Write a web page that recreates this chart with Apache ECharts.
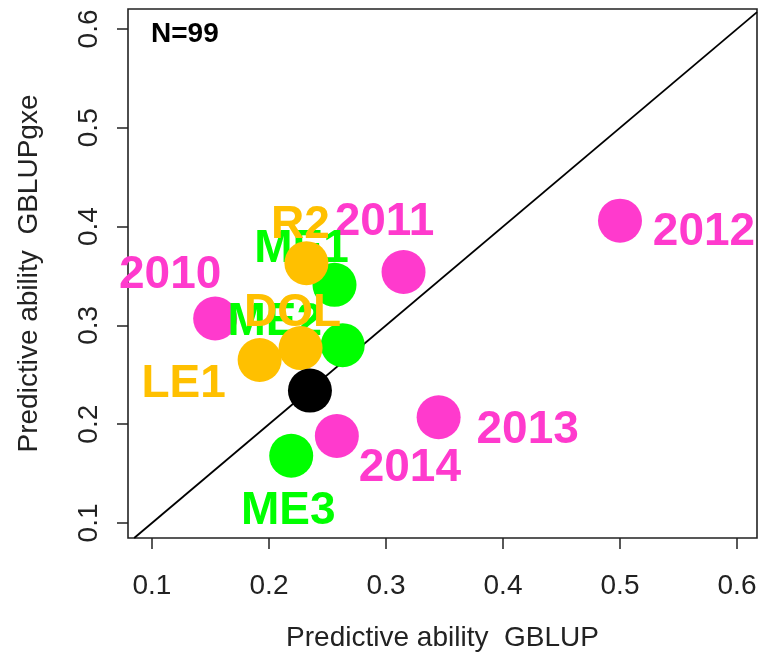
<!DOCTYPE html>
<html>
<head>
<meta charset="utf-8">
<script src="https://cdn.jsdelivr.net/npm/echarts@6/dist/echarts.min.js"></script>
<style>
  html, body { margin: 0; padding: 0; background: #ffffff; }
  #chart { width: 759px; height: 656px; }
</style>
</head>
<body>
<div id="chart"></div>
<script>
// Predictive ability: GBLUP (x) against GBLUPgxe (y) for each validation group
const sampleSize = 99;

// Year groups
const yearNames = ['2010', '2011', '2012', '2013', '2014'];
const yearGblup = [0.154, 0.315, 0.500, 0.345, 0.258];
const yearGxe   = [0.307, 0.354, 0.406, 0.207, 0.188];

// Macro-environments
const meNames = ['ME1', 'ME2', 'ME3'];
const meGblup = [0.256, 0.263, 0.219];
const meGxe   = [0.341, 0.280, 0.168];

// Other groupings
const otherNames = ['R2', 'DOL', 'LE1'];
const otherGblup = [0.232, 0.227, 0.192];
const otherGxe   = [0.363, 0.277, 0.265];

// Overall
const overallGblup = [0.235];
const overallGxe   = [0.234];

const tickValues = [0.1, 0.2, 0.3, 0.4, 0.5, 0.6];

// ---- styling ----
const FONT = '"Liberation Sans", Arial, sans-serif';
const COLORS = { year: '#FF3ACD', me: '#00FF00', other: '#FFC000', overall: '#000000' };
const X_EXTENT = [0.0795, 0.6171];
const Y_EXTENT = [0.0848, 0.6202];

// where each group name sits relative to its point (px)
const labelOffsets = {
  '2010': [-45, -43], '2011': [-19, -50], '2012': [84, 12], '2013': [89, 13], '2014': [73, 32],
  'ME1': [-33, -36], 'ME2': [-68, -23], 'ME3': [-3, 56],
  'R2': [-6, -38], 'DOL': [-8, -35], 'LE1': [-76, 24]
};

function pointsOf(names, xs, ys) {
  return xs.map((x, i) => ({
    name: names ? names[i] : '',
    value: [x, ys[i]],
    label: names ? { offset: labelOffsets[names[i]] } : undefined
  }));
}

function groupSeries(names, xs, ys, color, z) {
  return {
    type: 'scatter',
    z: z,
    silent: true,
    symbol: 'circle',
    symbolSize: 44,
    itemStyle: { color: color, opacity: 1 },
    label: {
      show: !!names,
      position: 'inside',
      formatter: '{b}',
      color: color,
      fontFamily: FONT,
      fontWeight: 'bold',
      fontSize: 46
    },
    data: pointsOf(names, xs, ys)
  };
}

// y = x reference line across the visible square
const lineLo = Math.max(X_EXTENT[0], Y_EXTENT[0]);
const lineHi = Math.min(X_EXTENT[1], Y_EXTENT[1]);

const axisText = { color: '#222', fontFamily: FONT, fontSize: 28 };

const option = {
  animation: false,
  backgroundColor: '#ffffff',
  grid: {
    left: 128, top: 9, width: 629, height: 529,
    show: true, borderColor: '#222', borderWidth: 1.6,
    containLabel: false, outerBoundsMode: 'none'
  },
  xAxis: {
    type: 'value',
    min: X_EXTENT[0], max: X_EXTENT[1],
    name: 'Predictive ability  GBLUP',
    nameLocation: 'middle', nameGap: 86,
    nameTextStyle: axisText,
    axisLine: { show: false },
    axisTick: { show: true, length: 11, customValues: tickValues, lineStyle: { color: '#222', width: 1.5 } },
    axisLabel: { show: true, customValues: tickValues, margin: 34, ...axisText },
    splitLine: { show: false }
  },
  yAxis: {
    type: 'value',
    min: Y_EXTENT[0], max: Y_EXTENT[1],
    name: 'Predictive ability  GBLUPgxe',
    nameLocation: 'middle', nameGap: 85, nameRotate: 90,
    nameTextStyle: axisText,
    axisLine: { show: false },
    axisTick: { show: true, length: 11, customValues: tickValues, lineStyle: { color: '#222', width: 1.5 } },
    axisLabel: { show: true, customValues: tickValues, rotate: 90, margin: 25, ...axisText },
    splitLine: { show: false }
  },
  graphic: [{
    type: 'text',
    left: 151, top: 20,
    style: { text: 'N=' + sampleSize, fill: '#000', font: 'bold 28px ' + FONT }
  }],
  series: [
    {
      type: 'line', z: 1, silent: true, symbol: 'none',
      lineStyle: { color: '#000', width: 1.8 },
      data: [[lineLo, lineLo], [lineHi, lineHi]]
    },
    groupSeries(yearNames, yearGblup, yearGxe, COLORS.year, 2),
    groupSeries(meNames, meGblup, meGxe, COLORS.me, 3),
    groupSeries(otherNames, otherGblup, otherGxe, COLORS.other, 4),
    groupSeries(null, overallGblup, overallGxe, COLORS.overall, 5)
  ]
};

const chart = echarts.init(document.getElementById('chart'), null, { renderer: 'canvas' });
chart.setOption(option);
</script>
</body>
</html>
